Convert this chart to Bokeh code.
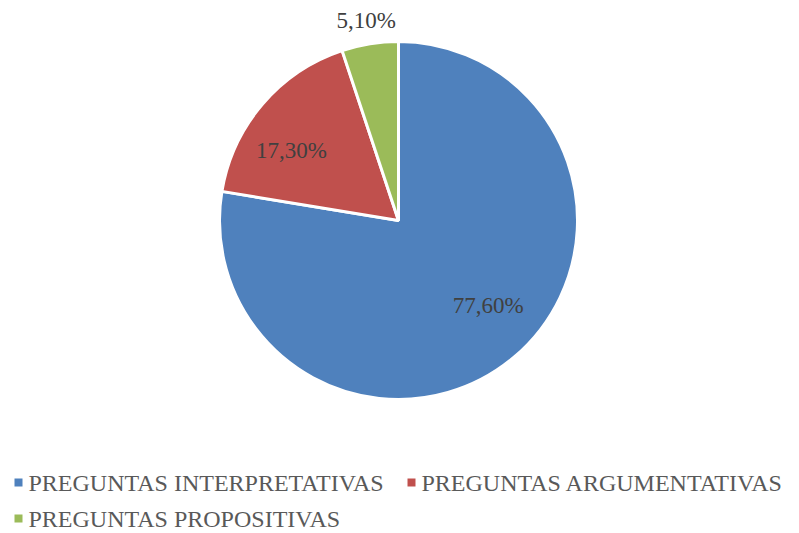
import numpy as np
from bokeh.plotting import figure
from bokeh.models import Range1d, ColumnDataSource
from bokeh.core.properties import value
from bokeh.embed import file_html
from bokeh.resources import INLINE

categories = ["PREGUNTAS INTERPRETATIVAS", "PREGUNTAS ARGUMENTATIVAS", "PREGUNTAS PROPOSITIVAS"]
values = [77.6, 17.3, 5.1]
labels = ["77,60%", "17,30%", "5,10%"]
colors = ["#4F81BD", "#C0504D", "#9BBB59"]

W, H = 799, 533
cx, cy, R = 398, H - 220, 179
label_r = [0.69, 0.715, 1.13]
label_shift_deg = [6.3, 7.3, 0.0]

frac = np.array(values) / sum(values)
cum = np.concatenate([[0], np.cumsum(frac)])
# clockwise from 12 o'clock
ends = np.pi / 2 - 2 * np.pi * cum[:-1]
starts = np.pi / 2 - 2 * np.pi * cum[1:]
mids = (starts + ends) / 2 + np.radians(label_shift_deg)

p = figure(width=W, height=H, x_range=Range1d(0, W), y_range=Range1d(0, H),
           output_backend="svg", toolbar_location=None, min_border=0)
p.axis.visible = False
p.grid.visible = False
p.outline_line_color = None
p.background_fill_color = "white"

src = ColumnDataSource(dict(start=starts, end=ends, color=colors))
p.wedge(x=cx, y=cy, radius=R, start_angle="start", end_angle="end",
        fill_color="color", line_color="white", line_width=3, source=src)

lx = cx + np.array(label_r) * R * np.cos(mids)
ly = cy + np.array(label_r) * R * np.sin(mids)
p.text(x=lx, y=ly, text=labels, text_font=value("Liberation Serif"),
       text_font_size="23px", text_color="#404040",
       text_align="center", text_baseline="middle")

# legend
leg_x = [18, 411, 18]
leg_y = [H - 482, H - 482, H - 518]
p.scatter(x=leg_x, y=leg_y, marker="square", size=8, fill_color=colors, line_color=None)
p.text(x=[x + 10 for x in leg_x], y=leg_y, text=categories,
       text_font=value("Liberation Serif"), text_font_size="24px",
       text_color="#595959", text_align="left", text_baseline="middle")

open("out.html", "w").write(file_html(p, INLINE))
